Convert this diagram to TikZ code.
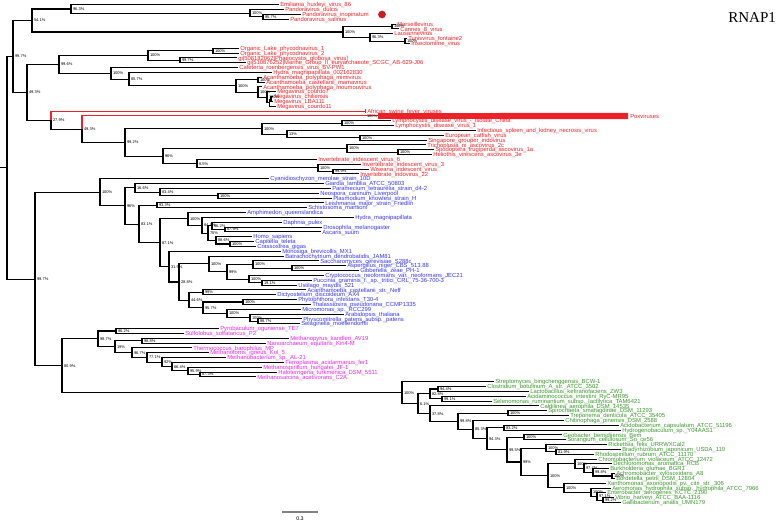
\documentclass[tikz,border=0pt]{standalone}
\usepackage{fontspec}
\setmainfont{Liberation Sans}
\newfontfamily\titlefont{Liberation Serif}
\usetikzlibrary{calc}
\definecolor{tred}{RGB}{235,35,40}
\definecolor{tblue}{RGB}{55,55,235}
\definecolor{tmag}{RGB}{230,40,230}
\definecolor{tgreen}{RGB}{60,150,45}
\tikzset{
  br/.style={line width=0.8pt,black},
  leaf/.style={anchor=base west,inner sep=0pt,font=\fontsize{4.4}{5}\selectfont,yshift=-1.55pt},
  boot/.style={anchor=west,inner sep=0pt,xshift=1.3pt,font=\fontsize{3}{3.5}\selectfont}
}
\newcommand\trLeaf[5]{\path coordinate (#1) at ({#3-1.5},{4.8+(#2-1)*4.833});
  \node[leaf,text=#4] (#1t) at ({#3},{4.8+(#2-1)*4.833}) {#5};}
\newcommand\trNode[4]{\path let \p1=(#3), \p2=(#4) in coordinate (#1) at ({#2*0.75pt},{(\y1+\y2)/2});
  \draw[br] (#1) |- (#3); \draw[br] (#1) |- (#4);}
\newcommand\trNodeC[6]{\path let \p1=(#3), \p2=(#5) in coordinate (#1) at ({#2*0.75pt},{(\y1+\y2)/2});
  \draw[br,#4] (#1) |- (#3); \draw[br,#6] (#1) |- (#5);}
\newcommand\trBoot[2]{\node[boot] (#1b) at (#1) {#2};}
\begin{document}
\begin{tikzpicture}[x=0.75pt,y=-0.75pt]
\useasboundingbox (0,0) rectangle (778,523);
% ---------- red leaves
\trLeaf{l1}{1}{280}{tred}{Emiliania\_huxleyi\_virus\_86}
\trLeaf{l2}{2}{285}{tred}{Pandoravirus\_dulcis}
\trLeaf{l3}{3}{302}{tred}{Pandoravirus\_inopinatum}
\trLeaf{l4}{4}{290}{tred}{Pandoravirus\_salinus}
\trLeaf{l5}{5}{397}{tred}{Marseillevirus}
\trLeaf{l6}{6}{400}{tred}{Cannes\_8\_virus}
\trLeaf{l7}{7}{394}{tred}{Lausannevirus}
\trLeaf{l8}{8}{408}{tred}{Tunisvirus\_fontaine2}
\trLeaf{l9}{9}{411}{tred}{Insectomime\_virus}
\trLeaf{l10}{10}{240}{tred}{Organic\_Lake\_phycodnavirus\_1}
\trLeaf{l11}{11}{240}{tred}{Organic\_Lake\_phycodnavirus\_2}
\trLeaf{l12}{12}{238}{tred}{gi|508182062|Phaeocystis\_globosa\_virus]}
\trLeaf{l13}{13}{247}{tred}{gi|510876252|Marine\_Group\_II\_euryarchaeote\_SCGC\_AB-629-J06}
\trLeaf{l14}{14}{239}{tred}{Cafeteria\_roenbergensis\_virus\_BV-PW1}
\trLeaf{l15}{15}{273}{tred}{Hydra\_magnipapillata\_002162830}
\trLeaf{l16}{16}{263}{tred}{Acanthamoeba\_polyphaga\_mimivirus}
\trLeaf{l17}{17}{266}{tred}{Acanthamoeba\_castellanii\_mamavirus}
\trLeaf{l18}{18}{263}{tred}{Acanthamoeba\_polyphaga\_moumouvirus}
\trLeaf{l19}{19}{277}{tred}{Megavirus\_courdo7}
\trLeaf{l20}{20}{274}{tred}{Megavirus\_chiliensis}
\trLeaf{l21}{21}{274}{tred}{Megavirus\_LBA111}
\trLeaf{l22}{22}{277}{tred}{Megavirus\_courdo11}
\trLeaf{l23}{23}{367}{tred}{African\_swine\_fever\_viruses}
\path coordinate (l24) at (365,115.97);
\node[leaf,text=tred] (l24t) at (630,115.97) {Poxviruses};
\trLeaf{l25}{25}{392}{tred}{Lymphocystis\_disease\_virus\_-\_isolate\_China}
\trLeaf{l26}{26}{395}{tred}{Lymphocystis\_disease\_virus\_1}
\trLeaf{l27}{27}{477}{tred}{Infectious\_spleen\_and\_kidney\_necrosis\_virus}
\trLeaf{l28}{28}{445}{tred}{European\_catfish\_virus}
\trLeaf{l29}{29}{428}{tred}{Singapore\_grouper\_iridovirus}
\trLeaf{l30}{30}{427}{tred}{Trichoplusia\_ni\_ascovirus\_2c}
\trLeaf{l31}{31}{435}{tred}{Spodoptera\_frugiperda\_ascovirus\_1a}
\trLeaf{l32}{32}{433}{tred}{Heliothis\_virescens\_ascovirus\_3e}
\trLeaf{l33}{33}{318}{tred}{Invertebrate\_iridescent\_virus\_6}
\trLeaf{l34}{34}{362}{tred}{Invertebrate\_iridescent\_virus\_3}
\trLeaf{l35}{35}{370}{tred}{Wiseana\_iridescent\_virus}
\trLeaf{l36}{36}{360}{tred}{Invertebrate\_iridovirus\_22}
% ---------- blue leaves
\trLeaf{l37}{37}{270}{tblue}{Cyanidioschyzon\_merolae\_strain\_10D}
\trLeaf{l38}{38}{325}{tblue}{Giardia\_lamblia\_ATCC\_50803}
\trLeaf{l39}{39}{332}{tblue}{Paramecium\_tetraurelia\_strain\_d4-2}
\trLeaf{l40}{40}{320}{tblue}{Neospora\_caninum\_Liverpool}
\trLeaf{l41}{41}{333}{tblue}{Plasmodium\_knowlesi\_strain\_H}
\trLeaf{l42}{42}{325}{tblue}{Leishmania\_major\_strain\_Friedlin}
\trLeaf{l43}{43}{308}{tblue}{Schistosoma\_mansoni}
\trLeaf{l44}{44}{247}{tblue}{Amphimedon\_queenslandica}
\trLeaf{l45}{45}{355}{tblue}{Hydra\_magnipapillata}
\trLeaf{l46}{46}{283}{tblue}{Daphnia\_pulex}
\trLeaf{l47}{47}{323}{tblue}{Drosophila\_melanogaster}
\trLeaf{l48}{48}{322}{tblue}{Ascaris\_suum}
\trLeaf{l49}{49}{253}{tblue}{Homo\_sapiens}
\trLeaf{l50}{50}{255}{tblue}{Capitella\_teleta}
\trLeaf{l51}{51}{257}{tblue}{Crassostrea\_gigas}
\trLeaf{l52}{52}{282}{tblue}{Monosiga\_brevicollis\_MX1}
\trLeaf{l53}{53}{285}{tblue}{Batrachochytrium\_dendrobatidis\_JAM81}
\trLeaf{l54}{54}{320}{tblue}{Saccharomyces\_cerevisiae\_S288c}
\trLeaf{l55}{55}{347}{tblue}{Aspergillus\_niger\_CBS\_513.88}
\trLeaf{l56}{56}{360}{tblue}{Gibberella\_zeae\_PH-1}
\trLeaf{l57}{57}{325}{tblue}{Cryptococcus\_neoformans\_var.\_neoformans\_JEC21}
\trLeaf{l58}{58}{313}{tblue}{Puccinia\_graminis\_f.\_sp.\_tritici\_CRL\_75-36-700-3}
\trLeaf{l59}{59}{298}{tblue}{Ustilago\_maydis\_521}
\trLeaf{l60}{60}{307}{tblue}{Acanthamoeba\_castellanii\_str.\_Neff}
\trLeaf{l61}{61}{277}{tblue}{Dictyostelium\_discoideum\_AX4}
\trLeaf{l62}{62}{298}{tblue}{Phytophthora\_infestans\_T30-4}
\trLeaf{l63}{63}{312}{tblue}{Thalassiosira\_pseudonana\_CCMP1335}
\trLeaf{l64}{64}{302}{tblue}{Micromonas\_sp.\_RCC299}
\trLeaf{l65}{65}{345}{tblue}{Arabidopsis\_thaliana}
\trLeaf{l66}{66}{303}{tblue}{Physcomitrella\_patens\_subsp.\_patens}
\trLeaf{l67}{67}{301}{tblue}{Selaginella\_moellendorffii}
% ---------- magenta leaves
\trLeaf{l68}{68}{220}{tmag}{Pyrobaculum\_oguniense\_TE7}
\trLeaf{l69}{69}{185}{tmag}{Sulfolobus\_solfataricus\_P2}
\trLeaf{l70}{70}{290}{tmag}{Methanopyrus\_kandleri\_AV19}
\trLeaf{l71}{71}{267}{tmag}{Nanoarchaeum\_equitans\_Kin4-M}
\trLeaf{l72}{72}{193}{tmag}{Thermococcus\_barophilus\_MP}
\trLeaf{l73}{73}{210}{tmag}{Methanotorris\_igneus\_Kol\_5}
\trLeaf{l74}{74}{227}{tmag}{Methanobacterium\_sp.\_AL-21}
\trLeaf{l75}{75}{285}{tmag}{Ferroplasma\_acidarmanus\_fer1}
\trLeaf{l76}{76}{263}{tmag}{Methanospirillum\_hungatei\_JF-1}
\trLeaf{l77}{77}{278}{tmag}{Haloterrigena\_turkmenica\_DSM\_5511}
\trLeaf{l78}{78}{257}{tmag}{Methanosarcina\_acetivorans\_C2A}
% ---------- green leaves
\trLeaf{l79}{79}{495}{tgreen}{Streptomyces\_bingchenggensis\_BCW-1}
\trLeaf{l80}{80}{487}{tgreen}{Clostridium\_botulinum\_A\_str.\_ATCC\_3502}
\trLeaf{l81}{81}{530}{tgreen}{Lactobacillus\_kefiranofaciens\_ZW3}
\trLeaf{l82}{82}{527}{tgreen}{Acidaminococcus\_intestini\_RyC-MR95}
\trLeaf{l83}{83}{493}{tgreen}{Selenomonas\_ruminantium\_subsp.\_lactilytica\_TAM6421}
\trLeaf{l84}{84}{540}{tgreen}{Caldilinea\_aerophila\_DSM\_14535}
\trLeaf{l85}{85}{548}{tgreen}{Spirochaeta\_smaragdinae\_DSM\_11293}
\trLeaf{l86}{86}{570}{tgreen}{Treponema\_denticola\_ATCC\_35405}
\trLeaf{l87}{87}{565}{tgreen}{Chitinophaga\_pinensis\_DSM\_2588}
\trLeaf{l88}{88}{620}{tgreen}{Acidobacterium\_capsulatum\_ATCC\_51196}
\trLeaf{l89}{89}{622}{tgreen}{Hydrogenobaculum\_sp.\_Y04AAS1}
\trLeaf{l90}{90}{563}{tgreen}{Geobacter\_bemidjiensis\_Bem}
\trLeaf{l91}{91}{567}{tgreen}{Sorangium\_cellulosum\_So\_ce56}
\trLeaf{l92}{92}{608}{tgreen}{Rickettsia\_felis\_URRWXCal2}
\trLeaf{l93}{93}{622}{tgreen}{Bradyrhizobium\_japonicum\_USDA\_110}
\trLeaf{l94}{94}{595}{tgreen}{Rhodospirillum\_rubrum\_ATCC\_11170}
\trLeaf{l95}{95}{598}{tgreen}{Chromobacterium\_violaceum\_ATCC\_12472}
\trLeaf{l96}{96}{613}{tgreen}{Dechloromonas\_aromatica\_RCB}
\trLeaf{l97}{97}{610}{tgreen}{Burkholderia\_glumae\_BGR1}
\trLeaf{l98}{98}{616}{tgreen}{Achromobacter\_xylosoxidans\_A8}
\trLeaf{l99}{99}{616}{tgreen}{Bordetella\_petrii\_DSM\_12804}
\trLeaf{l100}{100}{607}{tgreen}{Xanthomonas\_axonopodis\_pv.\_citri\_str.\_306}
\trLeaf{l101}{101}{612}{tgreen}{Aeromonas\_hydrophila\_subsp.\_hydrophila\_ATCC\_7966}
\trLeaf{l102}{102}{607}{tgreen}{Enterobacter\_aerogenes\_KCTC\_2190}
\trLeaf{l103}{103}{615}{tgreen}{Vibrio\_harveyi\_ATCC\_BAA-1116}
\trLeaf{l104}{104}{622}{tgreen}{Gallibacterium\_anatis\_UMN179}
% ---------- red internal nodes
\trNode{npanb}{263}{l3}{l4}\trBoot{npanb}{95.7\%}
\trNode{npana}{250}{l2}{npanb}\trBoot{npana}{100\%}
\trNode{nemi}{71}{l1}{npana}\trBoot{nemi}{96.3\%}
\trNode{nmc}{392}{l5}{l6}\trBoot{nmc}{100\%}
\trNode{ntun}{405}{l8}{l9}\trBoot{ntun}{100\%}
\trNode{nlau}{370}{l7}{ntun}\trBoot{nlau}{96.3\%}
\trNode{nmar}{343}{nmc}{nlau}\trBoot{nmar}{100\%}
\trNode{nfiftyfour}{32}{nemi}{nmar}\trBoot{nfiftyfour}{54.1\%}
\trNode{norg}{213}{l10}{l11}\trBoot{norg}{100\%}
\trNode{ngi}{180}{l12}{l13}\trBoot{ngi}{99.7\%}
\trNode{nphy}{148}{norg}{ngi}\trBoot{nphy}{100\%}
\trNode{nmm}{258}{l16}{l17}\trBoot{nmm}{100\%}
\trNode{nmegc}{271}{l20}{l21}
\trNode{nmegb}{269.5}{nmegc}{l22}
\trNode{nmega}{267}{l19}{nmegb}\trBoot{nmega}{100\%}
\trNode{nmou}{258}{l18}{nmega}\trBoot{nmou}{100\%}
\trNode{naca}{236}{nmm}{nmou}\trBoot{naca}{100\%}
\trNode{neightyfive}{129}{l15}{naca}\trBoot{neightyfive}{85.7\%}
\trNode{nmimi}{111}{l14}{neightyfive}\trBoot{nmimi}{100\%}
\trNode{nninetysix}{59}{nphy}{nmimi}\trBoot{nninetysix}{99.6\%}
\trNode{nlym}{342}{l25}{l26}\trBoot{nlym}{100\%}
\trNode{nmegal}{360}{l28}{l29}\trBoot{nmegal}{100\%}
\trNode{nthirteen}{287}{l27}{nmegal}\trBoot{nthirteen}{13\%}
\trNode{nir}{262}{nlym}{nthirteen}\trBoot{nir}{100\%}
\trNode{nascb}{398}{l31}{l32}\trBoot{nascb}{100\%}
\trNode{nasca}{347}{l30}{nascb}\trBoot{nasca}{100\%}
\trNode{niivc}{333}{l35}{l36}\trBoot{niivc}{99.9\%}
\trNode{niivb}{318}{l34}{niivc}\trBoot{niivb}{100\%}
\trNode{neight}{197}{l33}{niivb}\trBoot{neight}{8.5\%}
\trNode{nnsr}{163}{nasca}{neight}\trBoot{nnsr}{96\%}
\trNode{nntwo}{125}{nir}{nnsr}\trBoot{nntwo}{99.2\%}
\trNodeC{nfortyb}{82}{l24}{tred}{nntwo}{black}\trBoot{nfortyb}{49.3\%}
\trNodeC{ntwenty}{51}{l23}{tred}{nfortyb}{black}\trBoot{ntwenty}{27.9\%}
\trNode{nfortya}{27}{nninetysix}{ntwenty}\trBoot{nfortya}{49.3\%}
\trNode{nrootA}{13}{nfiftyfour}{nfortya}\trBoot{nrootA}{99.7\%}
% collapsed clades
\draw[tred,line width=0.8pt] (365.5,108.8) -- (365.5,113.4);
\draw[br,tred] (l24) -- (378,115.97);
\fill[tred] (378,113.2) -- (628,112.8) -- (628,119.2) -- (378,118.8) -- cycle;
\node[boot] (poxb) at (l24) {100\%};
\node[circle,fill=tred!85!black,inner sep=0pt,minimum size=5.8pt] (dot) at (382,14.5) {};
% ---------- eukaryote nodes
\trNode{eapi}{218}{l40}{l41}\trBoot{eapi}{100\%}
\trNode{eeightthree}{160}{l39}{eapi}\trBoot{eeightthree}{83.4\%}
\trNode{esixteen}{135}{l38}{eeightthree}\trBoot{esixteen}{16.6\%}
\trNode{eninetythree}{157}{l42}{l43}\trBoot{eninetythree}{93.3\%}
\trNode{ecn}{230}{l50}{l51}\trBoot{ecn}{100\%}
\trNode{eeightsix}{216}{l49}{ecn}\trBoot{eeightsix}{88.6\%}
\trNode{eeightseven}{225}{l47}{l48}\trBoot{eeightseven}{87.9\%}
\trNode{eninetysix}{212}{l46}{eeightseven}\trBoot{eninetysix}{96.2\%}
\trNode{eseventyfive}{208}{eninetysix}{eeightsix}\trBoot{eseventyfive}{75\%}
\trNode{eeightfour}{202}{l45}{eseventyfive}\trBoot{eeightfour}{84.4\%}
\trNode{emeta}{188}{l44}{eeightfour}\trBoot{emeta}{100\%}
\trNode{easp}{292}{l55}{l56}\trBoot{easp}{100\%}
\trNode{easc}{253}{l54}{easp}\trBoot{easc}{100\%}
\trNode{enineteen}{262}{l58}{l59}\trBoot{enineteen}{19.1\%}
\trNode{ebas}{249}{l57}{enineteen}\trBoot{ebas}{100\%}
\trNode{edik}{227}{easc}{ebas}\trBoot{edik}{99\%}
\trNode{efun}{209}{l53}{edik}\trBoot{efun}{100\%}
\trNode{edic}{203}{l60}{l61}\trBoot{edic}{99\%}
\trNode{estr}{243}{l62}{l63}\trBoot{estr}{100\%}
\trNode{esel}{258}{l66}{l67}\trBoot{esel}{88.7\%}
\trNode{eara}{250}{l65}{esel}\trBoot{eara}{100\%}
\trNode{epla}{227}{l64}{eara}\trBoot{epla}{100\%}
\trNode{eninetyfive}{203}{estr}{epla}\trBoot{eninetyfive}{95.7\%}
\trNode{efortyfour}{189}{edic}{eninetyfive}\trBoot{efortyfour}{44.6\%}
\trNode{etwentyeight}{179}{efun}{efortyfour}\trBoot{etwentyeight}{28.8\%}
\trNode{ethirtyone}{169}{l52}{etwentyeight}\trBoot{ethirtyone}{31.9\%}
\trNode{eeightyseven}{160}{emeta}{ethirtyone}\trBoot{eeightyseven}{87.1\%}
\trNode{eeightyone}{139}{eninetythree}{eeightyseven}\trBoot{eeightyone}{83.1\%}
\trNode{eninety}{125}{esixteen}{eeightyone}\trBoot{eninety}{96\%}
\trNode{eroot}{100}{l37}{eninety}\trBoot{eroot}{100\%}
% ---------- archaea nodes
\trNode{acren}{116}{l68}{l69}\trBoot{acren}{96.2\%}
\trNode{amk}{142}{l70}{l71}\trBoot{amk}{98.8\%}
\trNode{ahalo}{200}{l77}{l78}\trBoot{ahalo}{87.3\%}
\trNode{aspir}{188}{l76}{ahalo}\trBoot{aspir}{95.9\%}
\trNode{aferro}{172}{l75}{aspir}\trBoot{aferro}{66.4\%}
\trNode{abac}{162}{l74}{aferro}\trBoot{abac}{92\%}
\trNode{ator}{147}{l73}{abac}\trBoot{ator}{77.1\%}
\trNode{atherm}{132}{l72}{ator}\trBoot{atherm}{96.7\%}
\trNode{anineteen}{115}{amk}{atherm}\trBoot{anineteen}{19\%}
\trNode{aroot}{98}{acren}{anineteen}\trBoot{aroot}{98.7\%}
% ---------- bacteria nodes
\trNode{bclo}{438}{l80}{l81}\trBoot{bclo}{94.4\%}
\trNode{bsel}{442}{l82}{l83}\trBoot{bsel}{99.1\%}
\trNode{bfirm}{430}{bclo}{bsel}\trBoot{bfirm}{82.8\%}
\trNode{bspi}{508}{l85}{l86}\trBoot{bspi}{100\%}
\trNode{bacid}{504}{l88}{l89}\trBoot{bacid}{83.2\%}
\trNode{bgeo}{524}{l90}{l91}\trBoot{bgeo}{100\%}
\trNode{brho}{556}{l93}{l94}\trBoot{brho}{81.9\%}
\trNode{bric}{546}{l92}{brho}\trBoot{bric}{100\%}
\trNode{bbord}{612}{l98}{l99}\trBoot{bbord}{100\%}
\trNode{bburk}{593}{l97}{bbord}\trBoot{bburk}{99.8\%}
\trNode{bdech}{584}{l96}{bburk}\trBoot{bdech}{97.4\%}
\trNode{bbeta}{575}{l95}{bdech}\trBoot{bbeta}{100\%}
\trNode{bvib}{603}{l103}{l104}\trBoot{bvib}{99.2\%}
\trNode{bent}{597}{l102}{bvib}\trBoot{bent}{97.1\%}
\trNode{baer}{591}{l101}{bent}\trBoot{baer}{100\%}
\trNode{bgam}{564}{l100}{baer}\trBoot{bgam}{100\%}
\trNode{bbg}{548}{bbeta}{bgam}\trBoot{bbg}{100\%}
\trNode{bnn}{521}{bric}{bbg}\trBoot{bnn}{99\%}
\trNode{bnnf}{507}{bgeo}{bnn}\trBoot{bnnf}{99.5\%}
\trNode{bnft}{487}{bacid}{bnnf}\trBoot{bnft}{94.3\%}
\trNode{befth}{473}{l87}{bnft}\trBoot{befth}{85.3\%}
\trNode{bnne}{458}{bspi}{befth}\trBoot{bnne}{99.8\%}
\trNode{bthirty}{430}{l84}{bnne}\trBoot{bthirty}{37.8\%}
\trNode{bsix}{418}{bfirm}{bthirty}\trBoot{bsix}{6.1\%}
\trNode{broot}{402}{l79}{bsix}\trBoot{broot}{100\%}
% ---------- deep nodes
\trNode{neighty}{62}{aroot}{broot}\trBoot{neighty}{80.9\%}
\trNode{nrootB}{35}{eroot}{neighty}\trBoot{nrootB}{99.7\%}
\trNode{root}{7}{nrootA}{nrootB}
\draw[br] (root) -- ++(-7,0);
% ---------- scale bar and title
\coordinate (sba) at (282,512);
\coordinate (sbb) at (318,512);
\draw[gray,line width=0.8pt] (sba) -- (sbb);
\node[inner sep=0pt,font=\fontsize{4}{5}\selectfont] (sbl) at (300,519) {0.3};
\node[anchor=base west,inner sep=0pt,font=\titlefont\fontsize{11.3}{12}\selectfont] (title) at (728,22.7) {RNAP1};
\end{tikzpicture}
\end{document}
